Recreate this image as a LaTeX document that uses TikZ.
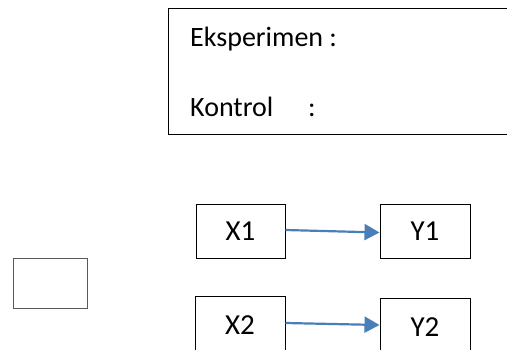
\documentclass[tikz,border=0pt]{standalone}
\usepackage{fontspec}
\setmainfont{Carlito}
\usetikzlibrary{arrows.meta}
\definecolor{arrowblue}{RGB}{74,126,187}
\tikzset{
  box/.style={draw=black, line width=1pt, rectangle, inner sep=0pt, font=\fontsize{29}{34}\selectfont},
  label/.style={inner sep=0pt, anchor=base west, font=\fontsize{28}{34}\selectfont},
  link/.style={draw=arrowblue, line width=2.2pt, -{Triangle[length=15pt,width=16pt]}}
}
\begin{document}
\begin{tikzpicture}[x=1pt,y=1pt]
  \useasboundingbox (0,0) rectangle (507,349);
  \clip (0,0) rectangle (507,349);
  \fill[white] (0,0) rectangle (507,349);
  % legend frame
  \node[box, minimum width=352pt, minimum height=125pt] (legend) at (344,277.5) {};
  \node[label] (eks) at (190,302) {Eksperimen :};
  \node[label] (kon) at (190,233) {\makebox[118pt][l]{Kontrol}:};
  % empty box on the left
  \node[box, draw=black!65, minimum width=74pt, minimum height=50pt] (empty) at (50,66) {};
  % variable boxes
  \node[box, minimum width=89pt, minimum height=54pt] (X1) at (240.5,118) {X1};
  \node[box, minimum width=90pt, minimum height=54pt] (Y1) at (425,118) {Y1};
  \node[box, minimum width=90pt, minimum height=58pt] (X2) at (240,24) {X2};
  \node[box, minimum width=90pt, minimum height=58pt] (Y2) at (425,22) {Y2};
  % relations
  \draw[link] ([yshift=1pt]X1.east) -- ([yshift=-1.5pt]Y1.west);
  \draw[link] ([yshift=2pt]X2.east) -- ([yshift=2pt]Y2.west);
\end{tikzpicture}
\end{document}
